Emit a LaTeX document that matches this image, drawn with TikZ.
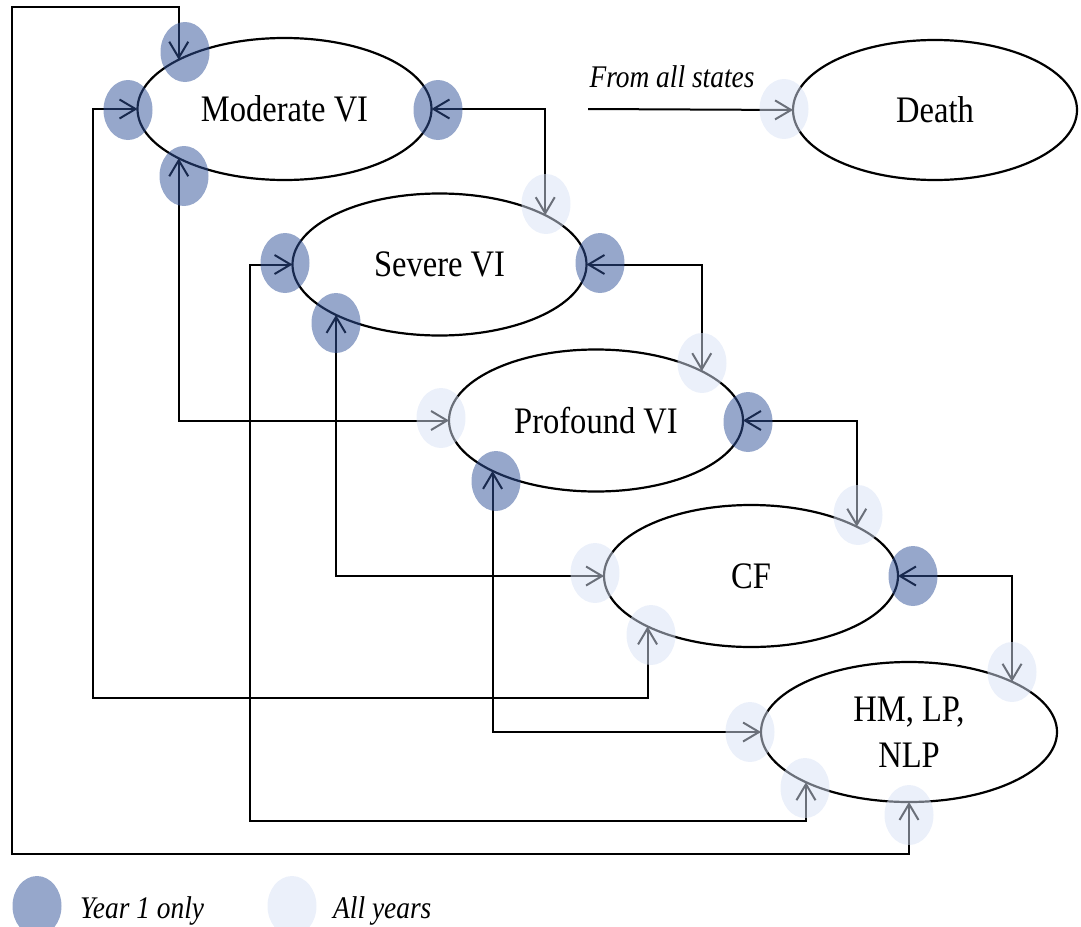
\documentclass[tikz,border=0pt]{standalone}
\usepackage{fontspec}
\setmainfont{Liberation Serif}[FakeStretch=0.87]
\usetikzlibrary{shapes.geometric,arrows.meta}
\definecolor{yearone}{RGB}{49,82,153}
\definecolor{allyears}{RGB}{215,225,245}
\begin{document}
\begin{tikzpicture}[x=1pt,y=-1pt,
  state/.style={ellipse,draw,line width=2.2pt,inner sep=0pt,outer sep=0pt,
    minimum width=294pt,minimum height=142pt,align=center,
    font=\fontsize{37.4}{46}\selectfont},
  link/.style={line width=2pt},
  barb/.tip={Straight Barb[length=16pt,width=19pt]},
  twoway/.style={link,barb-barb},
  oneway/.style={link,-barb},
  yr1/.style={fill=yearone,fill opacity=0.51},
  allyr/.style={fill=allyears,fill opacity=0.5},
  note/.style={inner sep=0pt,font=\fontsize{31.5}{36}\selectfont\itshape}
]
\useasboundingbox (0,0) rectangle (1081,926);

% health states
\node[state] (mod)   at (284.5,109) {Moderate VI};
\node[state,minimum width=284pt,minimum height=140pt] (death) at (935,110) {Death};
\node[state] (sev)   at (439.5,264.5) {Severe VI};
\node[state] (prof)  at (596,420.5) {Profound VI};
\node[state] (cf)    at (751,576) {CF};
\node[state,minimum width=296pt,minimum height=140pt] (hm) at (909,732) {HM, LP,\\NLP};

% transitions between neighbouring states
\draw[twoway] (mod.east)  -| (sev.25);
\draw[twoway] (sev.east)  -| (prof.25);
\draw[twoway] (prof.east) -| (cf.25);
\draw[twoway] (cf.east)   -| (hm.26);

% longer jumps
\draw[twoway] (mod.205) |- (prof.west);
\draw[twoway] (sev.206) |- (cf.west);
\draw[twoway] (prof.206) |- (hm.west);
\draw[twoway] (cf.206) |- (93,698) |- (mod.west);
\draw[twoway] (sev.west) -| (250,821) -| (hm.206);
\draw[twoway] (hm.south) |- (12,854) -- (12,7) -| (mod.155);

% death
\coordinate (anystate) at (588,109);
\draw[oneway] (anystate) -- (death.west);
\node[note,anchor=base] (fromall) at (672,87) {From all states};

% year-1-only transitions
\foreach \p in {(185,52),(128,110),(184,176),(438,110),
                (285,263),(600,263),(336,323),
                (748,422),(496,481),(913,576)}
  \fill[yr1] \p ellipse [x radius=24.5, y radius=30];

% transitions open in all years
\foreach \p in {(784,109),(546,204),(702,363),(441,418),
                (858,515),(595,573),(651,635),
                (1012,672),(750,732),(805,788),(909,815)}
  \fill[allyr] \p ellipse [x radius=24.5, y radius=30];

% legend
\fill[yr1] (37,906) ellipse [x radius=24.5, y radius=30];
\fill[allyr] (292,906) ellipse [x radius=24.5, y radius=30];
\node[note,anchor=base west] (legA) at (80,918) {Year 1 only};
\node[note,anchor=base west] (legB) at (333,918) {All years};
\end{tikzpicture}
\end{document}
